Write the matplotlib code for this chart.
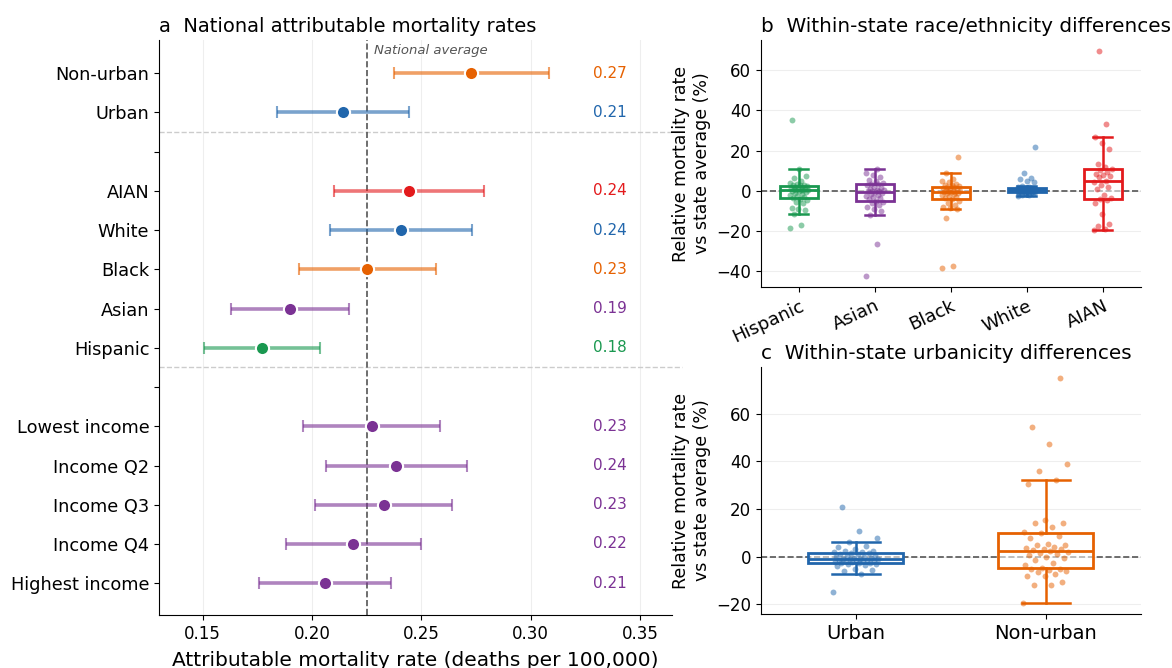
import numpy as np
import matplotlib
matplotlib.use('Agg')
import matplotlib.pyplot as plt

# ---------------- data ----------------
GREEN, PURPLE, ORANGE, BLUE, RED = '#1a9850', '#7b3294', '#e66101', '#2166ac', '#e31a1c'

rows = ['Non-urban', 'Urban', None, 'AIAN', 'White', 'Black', 'Asian', 'Hispanic', None,
        'Lowest income', 'Income Q2', 'Income Q3', 'Income Q4', 'Highest income']
rate = [0.2727, 0.2141, None, 0.2441, 0.2405, 0.2252, 0.1899, 0.1770, None,
        0.2272, 0.2385, 0.2328, 0.2189, 0.2059]
rate_lo = [0.2374, 0.1841, None, 0.2100, 0.2080, 0.1940, 0.1631, 0.1504, None,
           0.1960, 0.2062, 0.2014, 0.1881, 0.1758]
rate_hi = [0.3084, 0.2443, None, 0.2784, 0.2731, 0.2566, 0.2167, 0.2036, None,
           0.2586, 0.2709, 0.2640, 0.2496, 0.2363]
row_colors = [ORANGE, BLUE, None, RED, BLUE, ORANGE, PURPLE, GREEN, None,
              PURPLE, PURPLE, PURPLE, PURPLE, PURPLE]
national_avg = 0.225

race_cats = ['Hispanic', 'Asian', 'Black', 'White', 'AIAN']
race_colors = [GREEN, PURPLE, ORANGE, BLUE, RED]
hispanic = [-18.5, -17, -11.8, -9.5, -9, -8.5, -6, -5.5, -4.5, -4.2,
            -3.8, -3, -2.5, -2, -1.6, -1.2, -0.8, -0.3, 0, 0.2,
            0.4, 0.5, 0.5, 0.6, 0.8, 1, 1.3, 1.6, 2, 2.2,
            2.6, 2.8, 3, 3.5, 4, 5, 6.5, 7.5, 11, 35]
asian = [-42.5, -26.5, -12, -10, -9, -8, -7, -6, -5.8,
         -5, -4, -3.5, -3, -2.5, -2, -1.5, -1, -0.6,
         -0.4, -0.2, 0, 0.2, 0.5, 1, 1.5, 2, 3.0,
         3.2, 3.5, 4, 5, 5.5, 7, 8, 9, 11]
black = [-38.5, -37.5, -13.5, -9.2, -8.5, -8, -7, -6, -5, -4.3,
         -3.8, -3.2, -2.8, -2.2, -1.8, -1.4, -1.1, -0.9, -0.8,
         -0.6, -0.4, -0.2, 0, 0.3, 0.6, 1, 1.3, 1.6,
         1.9, 2.2, 2.6, 3, 3.5, 4.5, 5, 6, 8.8, 16.8]
white = [-2.8, -2.4, -2, -1.8, -1.5, -1.3, -1.1, -1, -0.9, -0.8, -0.8,
         -0.7, -0.6, -0.5, -0.4, -0.3, -0.2, -0.1, 0, 0, 0.1, 0.2,
         0.3, 0.4, 0.5, 0.6, 0.7, 0.8, 0.9, 1.0, 1.0, 1.1, 1.2,
         1.4, 1.6, 1.8, 2.2, 4.3, 5.0, 6.0, 6.3, 8.8, 21.8]
aian = [-19.5, -19, -17.5, -16.5, -11.8, -6, -4.6, -4.2, -3.8, -2,
        1, 1.8, 2.7, 4.5, 5, 7, 7.5, 8, 8.5, 9.5,
        10.2, 10.6, 12, 13.5, 20.8, 23.5, 26.8, 33.2, 69.5]
race_vals = [hispanic, asian, black, white, aian]

urb_cats = ['Urban', 'Non-urban']
urb_colors = [BLUE, ORANGE]
urban = [-14.8, -7.5, -6, -5.5, -5, -4, -3.5, -3, -2.9, -2.8, -2.7,
         -2.5, -2.3, -2.1, -2, -1.8, -1.6, -1.5, -1.4, -1.3, -1.2, -1.1,
         -1.0, -0.8, -0.6, -0.4, -0.2, 0, 0.3, 0.6, 0.9, 1.2, 1.4, 1.5,
         1.8, 2, 2.3, 2.5, 3, 4, 4.5, 6.2, 8.0, 10.6, 21]
nonurban = [-19.4, -12, -11.8, -10.5, -8.2, -8, -7.5, -6.5, -6, -5.5, -5.2,
            -5.0, -4.8, -3.5, -2.5, -1.5, -0.5, 0, 0.5, 1, 1.5, 2,
            2.4, 2.6, 3, 3.3, 3.8, 4.2, 4.8, 5, 5.3, 7.8, 8.5, 9.8,
            10.2, 12.3, 14.1, 14.3, 15.5, 30.5, 32, 35.8, 39, 47.2, 54.4, 74.9]
urb_vals = [urban, nonurban]

# ---------------- figure ----------------
plt.rcParams['font.family'] = ['DejaVu Sans']
fig = plt.figure(figsize=(11.72, 6.68), dpi=100)
axA = fig.add_axes([0.1357, 0.0793, 0.4377, 0.8607])
axB = fig.add_axes([0.6493, 0.5704, 0.3242, 0.3696])
axC = fig.add_axes([0.6493, 0.0808, 0.3242, 0.3698])

# ---- panel a ----
ypos = np.arange(len(rows))
for i, lab in enumerate(rows):
    if lab is None:
        continue
    x, lo, hi, c = rate[i], rate_lo[i], rate_hi[i], row_colors[i]
    axA.errorbar([x], [i], xerr=[[x - lo], [hi - x]], fmt='none', ecolor=c,
                 alpha=0.6, elinewidth=2.6, capsize=4.5, capthick=1.5, zorder=2)
    axA.plot([x], [i], 'o', color=c, ms=9.5, mec='white', mew=1.5, zorder=3)
    axA.text(0.344, i, f"{x:.2f}", ha='right', va='center', color=c, fontsize=11)

for i, lab in enumerate(rows):
    if lab is None:
        axA.axhline(i - 0.5, color='#cccccc', ls='--', lw=1, xmax=1.02, clip_on=False, zorder=1)

axA.axvline(national_avg, color='#555555', ls='--', lw=1.2, zorder=1)
axA.text(national_avg + 0.0035, -0.58, 'National average', fontsize=9.5, style='italic',
         color='#555555', ha='left', va='center')
axA.set_yticks(ypos)
axA.set_yticklabels([r if r else '' for r in rows], fontsize=12.75)
axA.set_ylim(13.81, -0.84)
axA.set_xlim(0.13, 0.3646)
axA.set_xticks([0.15, 0.20, 0.25, 0.30, 0.35])
axA.set_xticklabels(['0.15', '0.20', '0.25', '0.30', '0.35'], fontsize=12)
axA.grid(axis='x', color='#eeeeee', lw=0.8, zorder=0)
axA.set_axisbelow(True)
axA.set_xlabel('Attributable mortality rate (deaths per 100,000)', fontsize=14.5, labelpad=6)
axA.set_title('a  National attributable mortality rates', loc='left', fontsize=14, pad=6)
for s in ['top', 'right']:
    axA.spines[s].set_visible(False)


def jitter(n, width=0.24):
    return np.array([((k * 0.6180339887) % 1.0 - 0.5) * width for k in range(n)])


def box_panel(ax, vals, colors, cats, xtick_fs, rot):
    ax.axhline(0, color='#555555', ls='--', lw=1.2, zorder=1)
    for k, (v, c) in enumerate(zip(vals, colors)):
        v = np.asarray(v, dtype=float)
        ax.scatter(k + jitter(len(v)), v, s=18, color=c, alpha=0.5, lw=0, zorder=3)
        ax.boxplot([v], positions=[k], widths=0.5, showfliers=False, patch_artist=True,
                   boxprops=dict(facecolor=(1, 1, 1, 0.55), edgecolor=c, linewidth=2),
                   medianprops=dict(color=c, linewidth=2),
                   whiskerprops=dict(color=c, linewidth=1.8),
                   capprops=dict(color=c, linewidth=1.8),
                   zorder=2, manage_ticks=False)
    ax.set_xlim(-0.5, len(vals) - 0.5)
    ax.set_xticks(range(len(cats)))
    if rot:
        ax.set_xticklabels(cats, fontsize=xtick_fs, rotation=rot, ha='right', rotation_mode='anchor')
    else:
        ax.set_xticklabels(cats, fontsize=xtick_fs)
    ax.tick_params(axis='y', labelsize=12)
    ax.grid(axis='y', color='#eeeeee', lw=0.8, zorder=0)
    ax.set_axisbelow(True)
    ax.set_ylabel('Relative mortality rate\nvs state average (%)', fontsize=12.5)
    for s in ['top', 'right']:
        ax.spines[s].set_visible(False)


box_panel(axB, race_vals, race_colors, race_cats, 13, 25)
axB.set_title('b  Within-state race/ethnicity differences', loc='left', fontsize=14.4, pad=6)
axB.set_yticks([-40, -20, 0, 20, 40, 60])

box_panel(axC, urb_vals, urb_colors, urb_cats, 14, 0)
axC.set_title('c  Within-state urbanicity differences', loc='left', fontsize=14.4, pad=6)
axC.set_yticks([-20, 0, 20, 40, 60])

fig.savefig('out.png', dpi=100)
